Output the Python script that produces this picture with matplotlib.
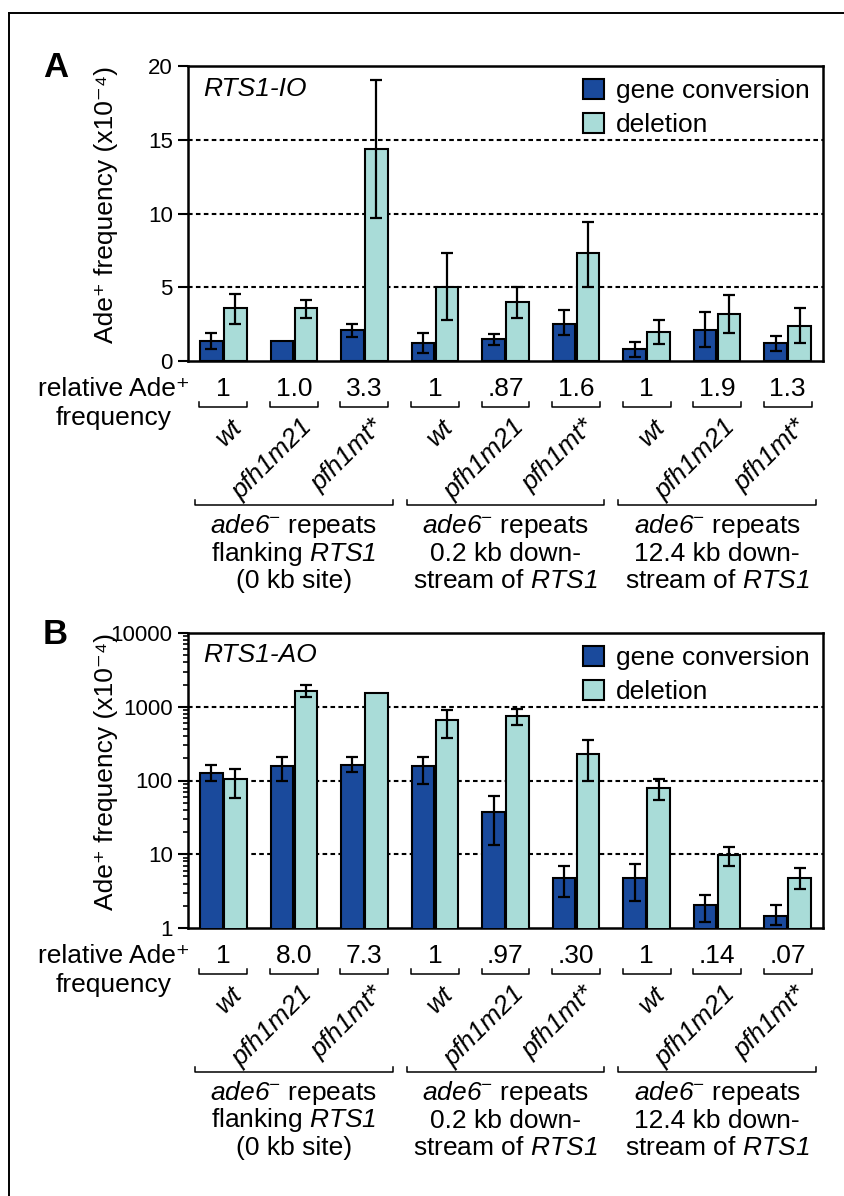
import numpy as np
import matplotlib.pyplot as plt
from matplotlib.lines import Line2D
from matplotlib.transforms import blended_transform_factory

plt.rcParams['font.family'] = ['Liberation Sans', 'DejaVu Sans']
# math mode is only used for italic words (so digits are italic too)
plt.rcParams['mathtext.fontset'] = 'custom'
plt.rcParams['mathtext.rm'] = 'Liberation Sans:italic'
plt.rcParams['mathtext.it'] = 'Liberation Sans:italic'
plt.rcParams['mathtext.bf'] = 'Liberation Sans:bold'

nan = np.nan

strains = ['wt', 'pfh1m21', 'pfh1mt*'] * 3
sites = [
    ['$ade6^{-}$ repeats', 'flanking $RTS1$', '(0 kb site)'],
    ['$ade6^{-}$ repeats', '0.2 kb down-', 'stream of $RTS1$'],
    ['$ade6^{-}$ repeats', '12.4 kb down-', 'stream of $RTS1$'],
]

# panel A: RTS1-IO (x10^-4)
io_gc = [1.36, 1.36, 2.12, 1.20, 1.47, 2.51, 0.79, 2.10, 1.20]
io_gc_lo = [0.81, nan, 1.63, 0.52, 1.06, 1.74, 0.29, 0.93, 0.70]
io_gc_hi = [1.88, nan, 2.53, 1.88, 1.83, 3.46, 1.31, 3.30, 1.72]
io_del = [3.62, 3.62, 14.4, 5.04, 3.98, 7.34, 1.97, 3.16, 2.37]
io_del_lo = [2.50, 2.94, 9.72, 2.78, 2.92, 5.04, 1.15, 1.88, 1.20]
io_del_hi = [4.52, 4.11, 19.03, 7.34, 5.04, 9.45, 2.78, 4.50, 3.59]
io_rel = ['1', '1.0', '3.3', '1', '.87', '1.6', '1', '1.9', '1.3']

# panel B: RTS1-AO (x10^-4)
ao_gc = [128, 155, 163, 155, 37.8, 4.83, 4.83, 2.08, 1.44]
ao_gc_lo = [100, 100, 130, 89, 13.2, 2.6, 2.3, 1.19, 1.1]
ao_gc_hi = [161, 207, 207, 207, 60.7, 6.84, 7.3, 2.77, 2.08]
ao_del = [105, 1634, 1537, 660, 739, 231, 78.4, 9.9, 4.83]
ao_del_lo = [58, 1344, nan, 375, 572, 100, 54, 6.84, 3.36]
ao_del_hi = [143, 1990, nan, 908, 930, 356, 105, 12.4, 6.43]
ao_rel = ['1', '8.0', '7.3', '1', '.97', '.30', '1', '.14', '.07']

BLUE = '#1a4a9c'
CYAN = '#a9dcd8'
W, H = 845, 1196

fig = plt.figure(figsize=(W / 100, H / 100), dpi=100)


def errbars(ax, x, val, lo, hi):
    val, lo, hi = map(np.asarray, (val, lo, hi))
    m = np.isfinite(lo)
    ax.errorbar(np.asarray(x)[m], val[m], yerr=[val[m] - lo[m], hi[m] - val[m]],
                fmt='none', ecolor='black', elinewidth=1.6, capsize=4.5,
                capthick=1.6, zorder=4)


def panel(top_px, letter, name, gc, gc_lo, gc_hi, dl, dl_lo, dl_hi, rel, log):
    ax = fig.add_axes([188 / W, 1 - (top_px + 295) / H, 635 / W, 295 / H])
    x = np.arange(9)
    bw = 0.32
    ax.bar(x - 0.17, gc, bw, color=BLUE, edgecolor='black', lw=1.5,
           label='gene conversion', zorder=3)
    ax.bar(x + 0.17, dl, bw, color=CYAN, edgecolor='black', lw=1.5,
           label='deletion', zorder=3)
    errbars(ax, x - 0.17, gc, gc_lo, gc_hi)
    errbars(ax, x + 0.17, dl, dl_lo, dl_hi)

    ax.set_xlim(-0.5, 8.5)
    if log:
        ax.set_yscale('log')
        ax.set_ylim(1, 10000)
        ax.set_yticks([1, 10, 100, 1000, 10000])
        ax.set_yticklabels(['1', '10', '100', '1000', '10000'])
        grid = [10, 100, 1000]
    else:
        ax.set_ylim(0, 20)
        ax.set_yticks([0, 5, 10, 15, 20])
        grid = [5, 10, 15]
    for g in grid:
        ax.axhline(g, color='black', lw=1.5, ls=(0, (2.2, 1.6)), zorder=1)

    ax.set_xticks([])
    ax.tick_params(axis='y', which='major', direction='out', length=7,
                   width=1.5, labelsize=16, pad=4)
    ax.tick_params(axis='y', which='minor', direction='out', length=3.5,
                   width=1.2)
    for s in ax.spines.values():
        s.set_linewidth(1.8)

    ax.set_ylabel('Ade⁺ frequency (x10⁻⁴)', fontsize=19)
    ax.yaxis.set_label_coords(-0.11, 0.53)

    ax.text(0.024, 0.9, name, transform=ax.transAxes, fontsize=19,
            style='italic', va='baseline')
    ax.legend(loc='upper right', bbox_to_anchor=(1.0, 1.0), frameon=False,
              fontsize=19, handlelength=0.8, handleheight=0.8,
              handletextpad=0.45, labelspacing=0.36, borderaxespad=0.15,
              borderpad=0.35)

    fig.text(43 / W, 1 - (top_px + 11) / H, letter, fontsize=25,
             fontweight='bold', va='baseline')

    # annotations under the axis
    tr = blended_transform_factory(ax.transData, ax.transAxes)

    def ay(px):
        return -(px - 295 - top_px) / 295

    ax.text(-0.5 - 74 / 70.6, ay(top_px + 330), 'relative Ade⁺',
            transform=tr, fontsize=19, ha='center', va='baseline')
    ax.text(-0.5 - 74 / 70.6, ay(top_px + 359), 'frequency',
            transform=tr, fontsize=19, ha='center', va='baseline')
    for i in range(9):
        ax.text(x[i], ay(top_px + 330), rel[i], transform=tr, fontsize=19,
                ha='center', va='baseline')
        yb, yt = ay(top_px + 341), ay(top_px + 336)
        ax.plot([x[i] - 0.34, x[i] - 0.34, x[i] + 0.34, x[i] + 0.34],
                [yt, yb, yb, yt], color='black', lw=1.1, transform=tr,
                clip_on=False)
        ax.text(x[i] + 0.28, ay(top_px + 362), strains[i], transform=tr,
                fontsize=19, style='italic', rotation=45,
                rotation_mode='anchor', ha='right', va='baseline')
    for k in range(3):
        c = 3 * k + 1
        yb, yt = ay(top_px + 439), ay(top_px + 434)
        ax.plot([c - 1.4, c - 1.4, c + 1.4, c + 1.4], [yt, yb, yb, yt],
                color='black', lw=1.1, transform=tr, clip_on=False)
        for j, line in enumerate(sites[k]):
            ax.text(c, ay(top_px + 467 + 27.5 * j), line, transform=tr,
                    fontsize=19, ha='center', va='baseline')
    return ax


panel(66, 'A', 'RTS1-IO', io_gc, io_gc_lo, io_gc_hi,
      io_del, io_del_lo, io_del_hi, io_rel, False)
panel(633, 'B', 'RTS1-AO', ao_gc, ao_gc_lo, ao_gc_hi,
      ao_del, ao_del_lo, ao_del_hi, ao_rel, True)

# outer frame (left and top edges of the figure box)
fig.add_artist(Line2D([9 / W, 9 / W], [0, 1 - 13 / H], color='black', lw=1.4))
fig.add_artist(Line2D([9 / W, 1], [1 - 13 / H, 1 - 13 / H], color='black', lw=1.4))

fig.savefig('out.png', dpi=100, facecolor='white')
